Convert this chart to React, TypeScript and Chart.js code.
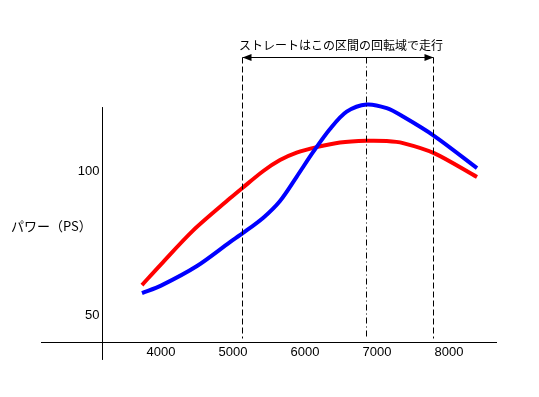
import React, { useEffect, useRef } from "react";
import { Chart, registerables } from "chart.js";

Chart.register(...registerables);

const rpmRed = [3736, 4000, 4444, 4958, 5135, 5421, 5653, 5884, 6162, 6486, 6857, 7135, 7361, 7792, 8389];
const powerRed = [60.4, 67.6, 79.3, 90.5, 94.2, 100.0, 103.8, 106.4, 108.3, 109.9, 110.5, 110.4, 109.7, 106.2, 97.9];

const rpmBlue = [3736, 4000, 4500, 4958, 5135, 5421, 5653, 5884, 6116, 6347, 6579, 6857, 7135, 7361, 7792, 8389];
const powerBlue = [57.6, 60.2, 67.0, 75.3, 78.4, 83.8, 89.6, 98.0, 106.7, 114.6, 120.6, 123.1, 121.8, 118.9, 112.2, 101.0];

const xTicks = [4000, 5000, 6000, 7000, 8000];
const yTicks = [50, 100];
const yTitle = "パワー（PS）";
const rangeLabel = "ストレートはこの区間の回転域で走行";
const rangeStart = 5129;
const rangePeak = 6847;
const rangeEnd = 7778;

const xAxisAtPower = 40.6;
const yAxisAtRpm = 3180;
const yAxisTopPower = 122.2;
const yAxisBottomPower = 34.4;
const arrowPower = 139.6;
const yTitlePower = 80.9;

const annotations = {
  id: "annotations",
  afterDraw(chart: any) {
    const ctx = chart.ctx as CanvasRenderingContext2D;
    const xs = chart.scales.x;
    const ys = chart.scales.y;
    const area = chart.chartArea;
    ctx.save();
    ctx.strokeStyle = "#000";
    ctx.lineWidth = 1;
    const axY = Math.round(ys.getPixelForValue(xAxisAtPower)) + 0.5;
    const axX = Math.round(xs.getPixelForValue(yAxisAtRpm)) + 0.5;
    ctx.beginPath();
    ctx.moveTo(area.left, axY);
    ctx.lineTo(area.right, axY);
    ctx.moveTo(axX, ys.getPixelForValue(yAxisTopPower));
    ctx.lineTo(axX, ys.getPixelForValue(yAxisBottomPower));
    ctx.stroke();

    ctx.fillStyle = "#000";
    ctx.font = "13px 'Liberation Sans', Arial, sans-serif";
    ctx.textAlign = "center";
    ctx.textBaseline = "middle";
    for (const t of xTicks) {
      ctx.fillText(String(t), xs.getPixelForValue(t), axY + 10);
    }
    ctx.textAlign = "right";
    for (const t of yTicks) {
      ctx.fillText(String(t), axX - 3, ys.getPixelForValue(t));
    }
    ctx.font = "13px 'Noto Sans CJK JP', sans-serif";
    ctx.textAlign = "left";
    ctx.fillText(yTitle, 11, ys.getPixelForValue(yTitlePower));

    const ay = Math.round(ys.getPixelForValue(arrowPower)) + 0.5;
    const bottom = axY - 4;
    const x1 = Math.round(xs.getPixelForValue(rangeStart)) + 0.5;
    const x2 = Math.round(xs.getPixelForValue(rangePeak)) + 0.5;
    const x3 = Math.round(xs.getPixelForValue(rangeEnd)) + 0.5;
    ctx.setLineDash([6, 3]);
    ctx.beginPath();
    ctx.moveTo(x1, ay);
    ctx.lineTo(x1, bottom);
    ctx.moveTo(x3, ay);
    ctx.lineTo(x3, bottom);
    ctx.stroke();
    ctx.setLineDash([6, 3, 1, 3]);
    ctx.beginPath();
    ctx.moveTo(x2, ay);
    ctx.lineTo(x2, bottom);
    ctx.stroke();
    ctx.setLineDash([]);
    ctx.beginPath();
    ctx.moveTo(x1, ay);
    ctx.lineTo(x3, ay);
    ctx.stroke();
    ctx.beginPath();
    ctx.moveTo(x1, ay);
    ctx.lineTo(x1 + 9, ay - 3.5);
    ctx.lineTo(x1 + 9, ay + 3.5);
    ctx.closePath();
    ctx.moveTo(x3, ay);
    ctx.lineTo(x3 - 9, ay - 3.5);
    ctx.lineTo(x3 - 9, ay + 3.5);
    ctx.closePath();
    ctx.fill();
    ctx.font = "12px 'Noto Sans CJK JP', sans-serif";
    ctx.textAlign = "center";
    ctx.textBaseline = "middle";
    ctx.fillText(rangeLabel, (x1 + x3) / 2 + 3, ay - 12);
    ctx.restore();
  },
};

export default function App() {
  const ref = useRef<HTMLCanvasElement>(null);
  useEffect(() => {
    if (!ref.current) return;
    const chart = new Chart(ref.current, {
      type: "line",
      data: {
        datasets: [
          {
            label: "blue",
            data: rpmBlue.map((x, i) => ({ x, y: powerBlue[i] })),
            borderColor: "#0000ff",
            borderWidth: 4,
            pointRadius: 0,
            tension: 0.3,
            clip: false as any,
          },
          {
            label: "red",
            data: rpmRed.map((x, i) => ({ x, y: powerRed[i] })),
            borderColor: "#ff0000",
            borderWidth: 4,
            pointRadius: 0,
            tension: 0.3,
            clip: false as any,
          },
        ],
      },
      options: {
        animation: false,
        responsive: false,
        layout: { padding: { left: 41, right: 42, top: 30, bottom: 27 } },
        plugins: { legend: { display: false }, tooltip: { enabled: false } },
        scales: {
          x: { type: "linear", min: 2333.33, max: 8666.67, display: false },
          y: { type: "linear", min: 30.903, max: 148.958, display: false },
        },
      },
      plugins: [annotations],
    });
    return () => chart.destroy();
  }, []);
  return (
    <div style={{ position: "fixed", left: 0, top: 0, width: 539, height: 397, background: "#fff" }}>
      <canvas ref={ref} width={539} height={397} />
    </div>
  );
}
